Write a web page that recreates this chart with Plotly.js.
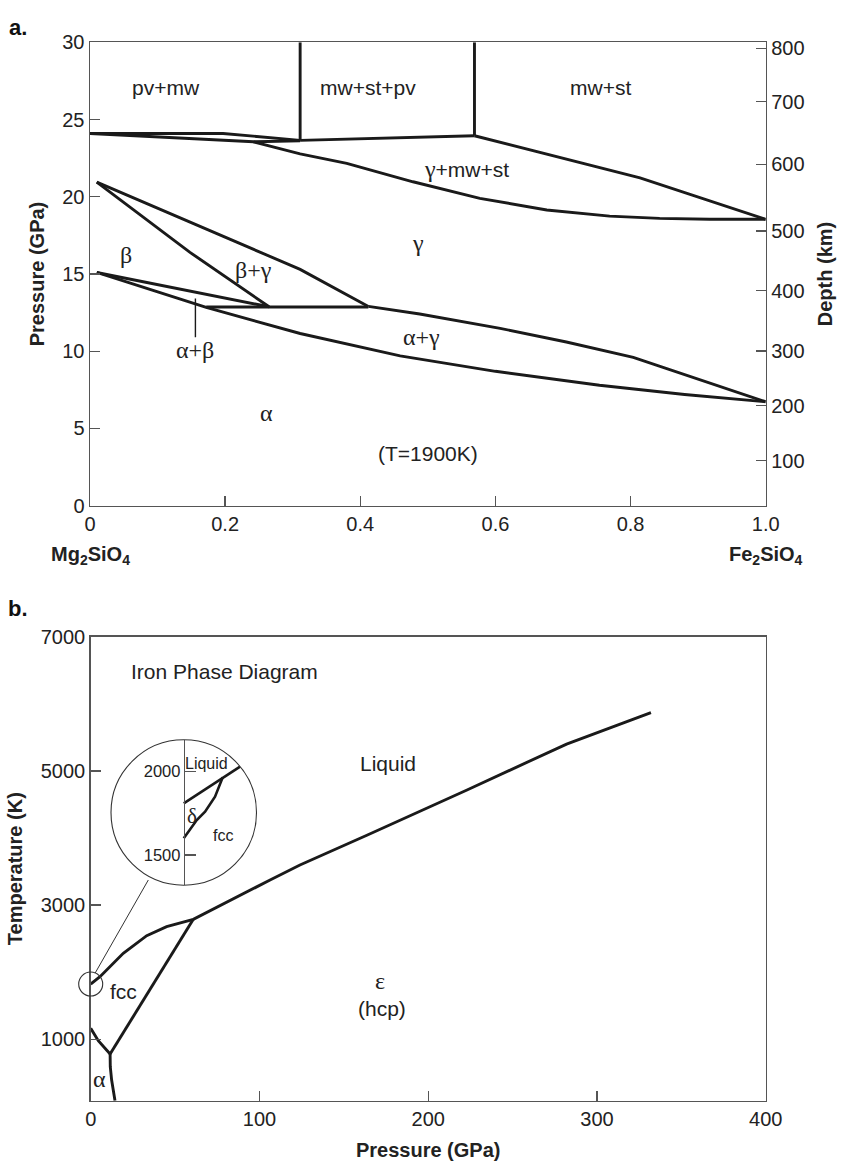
<!DOCTYPE html>
<html>
<head>
<meta charset="utf-8">
<script src="https://cdn.plot.ly/plotly-3.0.1.min.js"></script>
<style>html,body{margin:0;padding:0;background:#fff;} #chart{width:846px;height:1164px;}</style>
</head>
<body>
<div id="chart"></div>
<script>
// ---------------- Panel a: (Mg,Fe)2SiO4 phase diagram (T = 1900 K) ----------------
const pvmwX = [0, 0.197, 0.311];            const pvmwP = [24.1, 24.1, 23.65];
const baseTopX = [0, 0.242, 0.311];         const baseTopP = [24.1, 23.56, 23.62];
const split1X = [0.311, 0.311];             const split1P = [23.65, 30];
const mwstpvX = [0.311, 0.569];             const mwstpvP = [23.65, 23.95];
const split2X = [0.569, 0.569];             const split2P = [23.95, 30];
const gmsUpperX = [0.569, 0.814, 1.0];      const gmsUpperP = [23.95, 21.23, 18.54];
const gmsLowerX = [0.242, 0.281, 0.311, 0.38, 0.478, 0.577, 0.676, 0.769, 0.843, 0.917, 1.0];
const gmsLowerP = [23.56, 23.13, 22.78, 22.16, 20.97, 19.9, 19.14, 18.75, 18.6, 18.54, 18.54];
const betaBGX = [0.01, 0.148, 0.265];       const betaBGP = [20.95, 16.4, 12.88];
const gammaBGX = [0.01, 0.207, 0.311, 0.412]; const gammaBGP = [20.95, 17.27, 15.3, 12.9];
const abUpperX = [0.01, 0.265];             const abUpperP = [15.1, 12.88];
const flatX = [0.172, 0.412];               const flatP = [12.86, 12.86];
const agUpperX = [0.412, 0.459, 0.488, 0.607, 0.705, 0.804, 0.902, 1.0];
const agUpperP = [12.9, 12.6, 12.41, 11.48, 10.6, 9.6, 8.14, 6.73];
const alphaLowerX = [0.01, 0.172, 0.311, 0.459, 0.6, 0.754, 0.88, 1.0];
const alphaLowerP = [15.1, 12.84, 11.15, 9.7, 8.7, 7.8, 7.2, 6.73];
const pointerX = [0.156, 0.156];            const pointerP = [13.42, 10.9];

const depthKm = ['100', '200', '300', '400', '500', '600', '700', '800'];
const depthAtP = [2.91, 6.47, 10.01, 13.92, 17.78, 22.1, 26.15, 29.6];
const compTicks = [0, 0.2, 0.4, 0.6, 0.8, 1.0];
const compTickText = ['0', '0.2', '0.4', '0.6', '0.8', '1.0'];
const pTicks = [0, 5, 10, 15, 20, 25, 30];

// sans-serif region labels
const aLabels = ['pv+mw', 'mw+st+pv', 'mw+st', '(T=1900K)'];
const aLabelX = [0.112, 0.412, 0.755, 0.5];
const aLabelP = [27.1, 27.1, 27.1, 3.39];
// greek (symbol-font) region labels
const aGreek = ['γ', 'β', 'β+γ', 'α+β', 'α+γ', 'α'];
const aGreekX = [0.486, 0.053, 0.242, 0.155, 0.49, 0.261];
const aGreekP = [17.0, 16.2, 15.25, 10.08, 10.9, 5.98];
// mixed label
const mixedLabel = ['γ', '+mw+st'];
const mixedX = 0.557, mixedP = 21.8;

// ---------------- Panel b: Iron phase diagram ----------------
const meltP = [0, 5.5, 19.3, 33.2, 45, 60.8, 106, 124, 164, 223, 282, 332];
const meltT = [1824, 1933, 2282, 2544, 2678, 2788, 3370, 3598, 4045, 4716, 5400, 5870];
const fccHcpP = [11.5, 60.8];               const fccHcpT = [781, 2788];
const alphaFccP = [0, 4.5, 11.5];           const alphaFccT = [1164, 979, 781];
const alphaHcpP = [11.5, 11.6, 12.4, 14.4]; const alphaHcpT = [781, 592, 393, 85];
const bLabels = ['Liquid', 'fcc', '(hcp)'];
const bLabelP = [176, 19.3, 172.6];
const bLabelT = [5113, 1710, 1462];
const bGreek = ['ε', 'α'];
const bGreekP = [171.4, 5.5];
const bGreekT = [1870, 404];
const pressTicks = [0, 100, 200, 300, 400];
const tempTicks = [1000, 3000, 5000, 7000];
const tempRange = [85, 7000];

// inset (magnified region near 0 GPa)
const insetLiqP = [0, 5.36, 7.74];          const insetLiqT = [1810, 1966, 2030];
const insetDeltaP = [0, 1.79, 2.93, 4.3, 5.36]; const insetDeltaT = [1600, 1710, 1760, 1850, 1966];
const insetTicks = [1500, 2000];
const insetLabels = ['Liquid', 'fcc'];
const insetLabelP = [3.16, 5.36];
const insetLabelT = [2050, 1620];
const insetGreek = ['δ'];
const insetGreekP = [1.1];
const insetGreekT = [1735];

// ---------------- layout helpers ----------------
const W = 846, H = 1164;
const px = v => v / W;
const py = v => 1 - v / H;
const FONT = 'Liberation Sans, Arial, Helvetica, sans-serif';
const SERIF = 'Liberation Serif, Times New Roman, serif';
const INK = '#1a1a1a';
const AX = '#555';

function ln(x, y, xa, ya, w) {
  return {x: x, y: y, xaxis: xa, yaxis: ya, type: 'scatter', mode: 'lines',
    line: {color: INK, width: w || 2.9}, hoverinfo: 'skip', showlegend: false, cliponaxis: false};
}

const traces = [
  ln(pvmwX, pvmwP, 'x', 'y'), ln(baseTopX, baseTopP, 'x', 'y'),
  ln(split1X, split1P, 'x', 'y'), ln(mwstpvX, mwstpvP, 'x', 'y'),
  ln(split2X, split2P, 'x', 'y'), ln(gmsUpperX, gmsUpperP, 'x', 'y'),
  ln(gmsLowerX, gmsLowerP, 'x', 'y'), ln(betaBGX, betaBGP, 'x', 'y'),
  ln(gammaBGX, gammaBGP, 'x', 'y'), ln(abUpperX, abUpperP, 'x', 'y'),
  ln(flatX, flatP, 'x', 'y'), ln(agUpperX, agUpperP, 'x', 'y'),
  ln(alphaLowerX, alphaLowerP, 'x', 'y'), ln(pointerX, pointerP, 'x', 'y', 1.4),
  // invisible trace to activate the right-hand depth axis
  {x: [0], y: [0], xaxis: 'x', yaxis: 'y2', mode: 'markers', marker: {opacity: 0}, hoverinfo: 'skip', showlegend: false},
  ln(meltP, meltT, 'x2', 'y3'), ln(fccHcpP, fccHcpT, 'x2', 'y3'),
  ln(alphaFccP, alphaFccT, 'x2', 'y3'), ln(alphaHcpP, alphaHcpT, 'x2', 'y3'),
  ln(insetLiqP, insetLiqT, 'x3', 'y4', 2.6), ln(insetDeltaP, insetDeltaT, 'x3', 'y4', 2.6)
];

const tickFont = {family: FONT, size: 20, color: '#222'};
const titleFont = {family: FONT, size: 20, color: '#222', weight: 'bold'};
const labelFont = {family: FONT, size: 21, color: '#222'};
const greekFont = {family: SERIF, size: 24, color: '#222'};
const common = {showline: true, linecolor: AX, linewidth: 1.5, ticks: 'inside', ticklen: 10,
  tickwidth: 1.3, tickcolor: AX, showgrid: false, zeroline: false, tickfont: tickFont, fixedrange: true};

const aDomX = [px(90), px(765.7)], aDomY = [py(505.7), py(42.3)];
const bDomX = [px(90.7), px(765.7)], bDomY = [py(1100.7), py(636.7)];
const inDomX = [px(111), px(256.5)], inDomY = [py(885.2), py(739.8)];

const annotations = [];
function ann(xref, yref, x, y, text, font, extra) {
  annotations.push(Object.assign({xref: xref, yref: yref, x: x, y: y, text: text, showarrow: false, font: font}, extra || {}));
}
aLabels.forEach((t, i) => ann('x', 'y', aLabelX[i], aLabelP[i], t, labelFont));
aGreek.forEach((t, i) => ann('x', 'y', aGreekX[i], aGreekP[i], t, greekFont));
ann('x', 'y', mixedX, mixedP,
  '<span style="font-family:' + SERIF + ';font-size:24px">' + mixedLabel[0] + '</span>' + mixedLabel[1], labelFont);
bLabels.forEach((t, i) => ann('x2', 'y3', bLabelP[i], bLabelT[i], t, labelFont));
bGreek.forEach((t, i) => ann('x2', 'y3', bGreekP[i], bGreekT[i], t, greekFont));
ann('x2', 'y3', 22.9, 6478, 'Iron Phase Diagram', labelFont, {xanchor: 'left'});
insetLabels.forEach((t, i) => ann('x3', 'y4', insetLabelP[i], insetLabelT[i], t, {family: FONT, size: 16, color: '#222'}));
insetGreek.forEach((t, i) => ann('x3', 'y4', insetGreekP[i], insetGreekT[i], t, {family: SERIF, size: 21, color: '#222'}));
ann('x', 'paper', 0, py(555), 'Mg<sub>2</sub>SiO<sub>4</sub>', titleFont);
ann('x', 'paper', 1, py(555), 'Fe<sub>2</sub>SiO<sub>4</sub>', titleFont);
ann('paper', 'paper', px(7), py(13), 'a.', {family: FONT, size: 22, color: '#111', weight: 'bold'}, {xanchor: 'left'});
ann('paper', 'paper', px(6), py(608), 'b.', {family: FONT, size: 22, color: '#111', weight: 'bold'}, {xanchor: 'left'});

// small magnifier circle around the zero-pressure melting point, in paper units derived from the axis scale
const smallCy = bDomY[0] + (meltT[0] - tempRange[0]) / (tempRange[1] - tempRange[0]) * (bDomY[1] - bDomY[0]);
const smallCx = bDomX[0];

const layout = {
  width: W, height: H, margin: {l: 0, r: 0, t: 0, b: 0}, paper_bgcolor: '#fff', plot_bgcolor: 'rgba(0,0,0,0)',
  showlegend: false, font: {family: FONT, color: '#222'},
  xaxis: Object.assign({}, common, {domain: aDomX, anchor: 'y', range: [0, 1], mirror: true,
    tickvals: compTicks, ticktext: compTickText}),
  yaxis: Object.assign({}, common, {domain: aDomY, anchor: 'x', range: [0, 30], mirror: true, tickvals: pTicks,
    title: {text: 'Pressure (GPa)', font: titleFont, standoff: 12}}),
  yaxis2: Object.assign({}, common, {overlaying: 'y', side: 'right', anchor: 'x', range: [0, 30],
    tickvals: depthAtP, ticktext: depthKm, title: {text: 'Depth (km)', font: titleFont, standoff: 14}}),
  xaxis2: Object.assign({}, common, {domain: bDomX, anchor: 'y3', range: [0, 400], mirror: true, tickvals: pressTicks,
    title: {text: 'Pressure (GPa)', font: titleFont, standoff: 14}}),
  yaxis3: Object.assign({}, common, {domain: bDomY, anchor: 'x2', range: tempRange, mirror: true, tickvals: tempTicks,
    title: {text: 'Temperature (K)', font: titleFont, standoff: 12}}),
  xaxis3: {domain: inDomX, anchor: 'y4', range: [-10, 10], visible: false, fixedrange: true},
  yaxis4: Object.assign({}, common, {domain: inDomY, anchor: 'free', position: (inDomX[0] + inDomX[1]) / 2,
    range: [1319, 2191], tickvals: insetTicks, ticklen: 11, linewidth: 1.2,
    tickfont: {family: FONT, size: 16.5, color: '#222'}}),
  shapes: [
    {type: 'circle', xref: 'x3 domain', yref: 'y4 domain', x0: 0, x1: 1, y0: 0, y1: 1,
      line: {color: '#333', width: 1.1}},
    {type: 'circle', xref: 'paper', yref: 'paper', xsizemode: 'pixel', ysizemode: 'pixel',
      xanchor: smallCx, yanchor: smallCy, x0: -12, x1: 12, y0: -12, y1: 12, line: {color: '#333', width: 1.1}},
    {type: 'line', xref: 'paper', yref: 'paper', x0: px(95), y0: py(973.3), x1: px(148.3), y1: py(880),
      line: {color: '#333', width: 1}}
  ],
  annotations: annotations
};

Plotly.newPlot('chart', traces, layout, {staticPlot: true, displayModeBar: false});
</script>
</body>
</html>
